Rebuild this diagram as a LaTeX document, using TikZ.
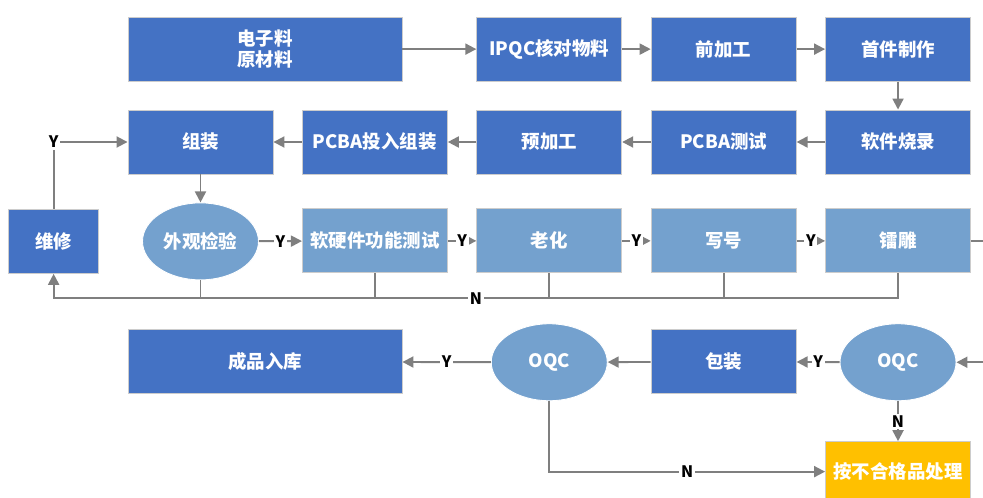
\documentclass[tikz,border=0pt]{standalone}
\usepackage{fontspec}
\setmainfont{Noto Sans CJK SC}
\usepackage{tikz}
\usetikzlibrary{arrows.meta,positioning,calc,shapes.geometric}
\definecolor{darkblue}{RGB}{68,114,196}
\definecolor{lightblue}{RGB}{116,161,206}
\definecolor{rejorange}{RGB}{255,192,0}
\definecolor{linegray}{RGB}{127,127,127}

\begin{document}
\begin{tikzpicture}[
  box/.style={rectangle,draw=gray!40,line width=0.5pt,fill=darkblue,text=white,align=center,
    font=\bfseries\fontsize{10.5}{12}\selectfont,minimum width=2.9cm,minimum height=1.28cm,inner sep=2pt},
  testbox/.style={box,fill=lightblue},
  check/.style={ellipse,draw=white,line width=0.5pt,fill=lightblue,text=white,
    font=\bfseries\fontsize{10.5}{12}\selectfont,minimum width=2.32cm,minimum height=1.54cm,inner sep=0pt},
  flow/.style={draw=linegray,line width=1.1pt,-{Triangle[length=0.22cm,width=0.22cm]}},
  feed/.style={draw=linegray,line width=1.1pt},
  yn/.style={fill=white,inner sep=1pt,text=black,font=\bfseries\fontsize{9}{10}\selectfont}]

  \useasboundingbox (0,0) rectangle (19.66,-9.96);

  % second row, right to left flow
  \node[box] (zz) at (4.01,-2.84) {组装};
  \node[box,right=0.57cm of zz] (pcba) {PCBA投入组装};
  \node[box,right=0.57cm of pcba] (yjg) {预加工};
  \node[box,right=0.57cm of yjg] (cs) {PCBA测试};
  \node[box,right=0.57cm of cs] (sl) {软件烧录};

  % first row
  \node[box,minimum width=5.48cm,above right=0.56cm and 0cm of zz.north west] (dzl) {电子料\\原材料};
  \node[box,above=0.56cm of yjg] (ipqc) {IPQC核对物料};
  \node[box,above=0.56cm of cs] (qjg) {前加工};
  \node[box,above=0.56cm of sl] (scz) {首件制作};

  % third row
  \node[check,below=0.56cm of zz] (wjy) {外观检验};
  \node[box,minimum width=1.8cm,left=0.86cm of wjy] (wx) {维修};
  \node[testbox,below=0.68cm of pcba] (rjy) {软硬件功能测试};
  \node[testbox,below=0.68cm of yjg] (lh) {老化};
  \node[testbox,below=0.68cm of cs] (xh) {写号};
  \node[testbox,below=0.68cm of sl] (ld) {镭雕};

  % fourth row
  \node[check,below=1.0cm of ld] (oqcb) {OQC};
  \node[check,below=1.0cm of lh] (oqca) {OQC};
  \node[box,below=1.12cm of xh] (bz) {包装};
  \node[box,minimum width=5.48cm] (rk) at (dzl |- bz) {成品入库};
  \node[box,fill=rejorange,minimum height=1.2cm,below=0.8cm of oqcb] (bhg) {按不合格品处理};

  \coordinate (fb) at ($(ld.south)+(0,-0.5)$);
  \coordinate (eout) at ($(ld.east)+(0.3,0)$);
  \coordinate (ein) at ($(oqcb.east)+(0.6,0)$);

  \draw[flow] (dzl) -- (ipqc);
  \draw[flow] (ipqc) -- (qjg);
  \draw[flow] (qjg) -- (scz);
  \draw[flow] (scz) -- (sl);
  \draw[flow] (sl) -- (cs);
  \draw[flow] (cs) -- (yjg);
  \draw[flow] (yjg) -- (pcba);
  \draw[flow] (pcba) -- (zz);
  \draw[flow] (zz) -- (wjy);

  \draw[flow] (wjy) -- node[yn] {Y} (rjy);
  \draw[flow] (rjy) -- node[yn] {Y} (lh);
  \draw[flow] (lh) -- node[yn] {Y} (xh);
  \draw[flow] (xh) -- node[yn] {Y} (ld);
  \draw[feed] (ld) -- (eout);

  % failed checks go back to repair
  \draw[flow] (ld.south) -- (ld.south |- fb) -| node[yn,pos=0.25] {N} (wx.south);
  \foreach \n in {xh,lh,rjy,wjy}
    \draw[feed] (\n.south) -- (\n.south |- fb);
  \draw[flow] (wx.north) |- node[yn,pos=0.5] {Y} (zz.west);

  \draw[flow] (ein) -- (oqcb);
  \draw[flow] (oqcb) -- node[yn] {Y} (bz);
  \draw[flow] (bz) -- (oqca);
  \draw[flow] (oqca) -- node[yn] {Y} (rk);
  \draw[flow] (oqcb) -- node[yn] {N} (bhg);
  \draw[flow] (oqca) |- node[yn,pos=0.75] {N} (bhg);

\end{tikzpicture}
\end{document}
